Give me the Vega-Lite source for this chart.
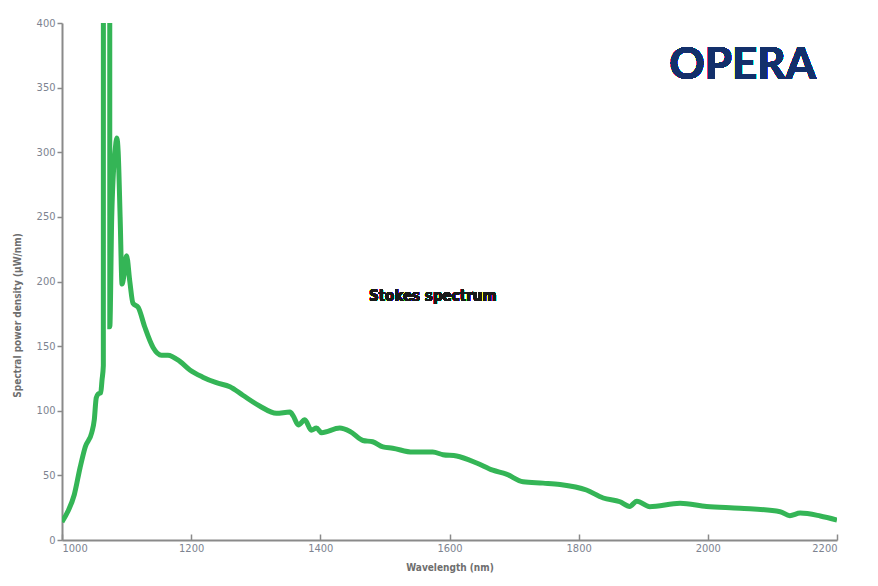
{
  "$schema": "https://vega.github.io/schema/vega-lite/v6.json",
  "autosize": {"type": "none"},
  "padding": {"left": 62, "top": 23, "right": 41, "bottom": 46},
  "width": 775,
  "height": 517,
  "background": "white",
  "data": {
    "values": [
      {"wl": 1000, "spd": 14},
      {"wl": 1009, "spd": 22},
      {"wl": 1019, "spd": 35},
      {"wl": 1028, "spd": 56},
      {"wl": 1036, "spd": 72},
      {"wl": 1046, "spd": 83},
      {"wl": 1050, "spd": 93},
      {"wl": 1053, "spd": 110},
      {"wl": 1056, "spd": 113},
      {"wl": 1060, "spd": 114},
      {"wl": 1062, "spd": 124},
      {"wl": 1064, "spd": 135},
      {"wl": 1069.5, "spd": 20000},
      {"wl": 1074, "spd": 165},
      {"wl": 1077, "spd": 250},
      {"wl": 1080, "spd": 288},
      {"wl": 1082, "spd": 300},
      {"wl": 1085, "spd": 311},
      {"wl": 1087, "spd": 300},
      {"wl": 1090, "spd": 250},
      {"wl": 1093, "spd": 198},
      {"wl": 1096, "spd": 205},
      {"wl": 1100, "spd": 220},
      {"wl": 1105, "spd": 200},
      {"wl": 1110, "spd": 183},
      {"wl": 1118, "spd": 180},
      {"wl": 1128, "spd": 165},
      {"wl": 1141, "spd": 149},
      {"wl": 1154, "spd": 143},
      {"wl": 1164, "spd": 143},
      {"wl": 1183, "spd": 138},
      {"wl": 1198, "spd": 131.5},
      {"wl": 1218, "spd": 126},
      {"wl": 1239, "spd": 121.7},
      {"wl": 1260, "spd": 118.6},
      {"wl": 1280, "spd": 112},
      {"wl": 1306, "spd": 103.7},
      {"wl": 1332, "spd": 98},
      {"wl": 1353, "spd": 99},
      {"wl": 1358, "spd": 96},
      {"wl": 1366, "spd": 89},
      {"wl": 1376, "spd": 93},
      {"wl": 1386, "spd": 85},
      {"wl": 1394, "spd": 86.6},
      {"wl": 1402, "spd": 83},
      {"wl": 1430, "spd": 86.6},
      {"wl": 1446, "spd": 84},
      {"wl": 1466, "spd": 77},
      {"wl": 1481, "spd": 76},
      {"wl": 1497, "spd": 72},
      {"wl": 1512, "spd": 71},
      {"wl": 1543, "spd": 68},
      {"wl": 1574, "spd": 68},
      {"wl": 1590, "spd": 66},
      {"wl": 1611, "spd": 65},
      {"wl": 1642, "spd": 59.6},
      {"wl": 1667, "spd": 54},
      {"wl": 1688, "spd": 51},
      {"wl": 1714, "spd": 45},
      {"wl": 1745, "spd": 44},
      {"wl": 1771, "spd": 43},
      {"wl": 1812, "spd": 38.7},
      {"wl": 1838, "spd": 32.5},
      {"wl": 1864, "spd": 29.6},
      {"wl": 1879, "spd": 26},
      {"wl": 1890, "spd": 30},
      {"wl": 1910, "spd": 25.8},
      {"wl": 1957, "spd": 28.4},
      {"wl": 1998, "spd": 26},
      {"wl": 2050, "spd": 24.6},
      {"wl": 2112, "spd": 21.9},
      {"wl": 2127, "spd": 18.8},
      {"wl": 2143, "spd": 20.8},
      {"wl": 2174, "spd": 18.6},
      {"wl": 2200, "spd": 15.5}
    ]
  },
  "layer": [
    {
      "mark": {"type": "line", "color": "#34b556", "strokeWidth": 5, "interpolate": "monotone", "clip": true},
      "encoding": {
        "x": {
          "field": "wl",
          "type": "quantitative",
          "title": "Wavelength (nm)",
          "scale": {"domain": [1000, 2200], "nice": false},
          "axis": {"values": [1000, 1200, 1400, 1600, 1800, 2000, 2200], "format": "d", "grid": false, "tickSize": -6, "labelPadding": 8, "titlePadding": 9}
        },
        "y": {
          "field": "spd",
          "type": "quantitative",
          "title": "Spectral power density (µW/nm)",
          "scale": {"domain": [0, 400], "nice": false},
          "axis": {"values": [0, 50, 100, 150, 200, 250, 300, 350, 400], "format": "d", "grid": false, "tickSize": 5, "labelPadding": 2, "titleY": 292, "titleX": -40}
        }
      }
    },
    {
      "mark": {"type": "text", "text": "Stokes spectrum", "font": "DejaVu Sans Condensed, DejaVu Sans", "fontSize": 15, "fontWeight": "bold", "color": "#1a1a1a"},
      "encoding": {"x": {"datum": 1574}, "y": {"datum": 189}}
    },
    {
      "mark": {"type": "text", "text": "OPERA", "font": "Lato", "fontSize": 44, "fontWeight": "bold", "color": "#13306b"},
      "encoding": {"x": {"datum": 2054}, "y": {"datum": 367}}
    }
  ],
  "config": {
    "view": {"stroke": null},
    "axis": {
      "domainColor": "#8a8a8a",
      "domainWidth": 2,
      "tickColor": "#8a8a8a",
      "tickWidth": 1.5,
      "labelFont": "DejaVu Sans Condensed, DejaVu Sans",
      "labelFontSize": 11,
      "labelColor": "#7d8390",
      "titleFont": "DejaVu Sans Condensed, DejaVu Sans",
      "titleFontSize": 10,
      "titleFontWeight": "bold",
      "titleColor": "#6e6e6e"
    }
  }
}
